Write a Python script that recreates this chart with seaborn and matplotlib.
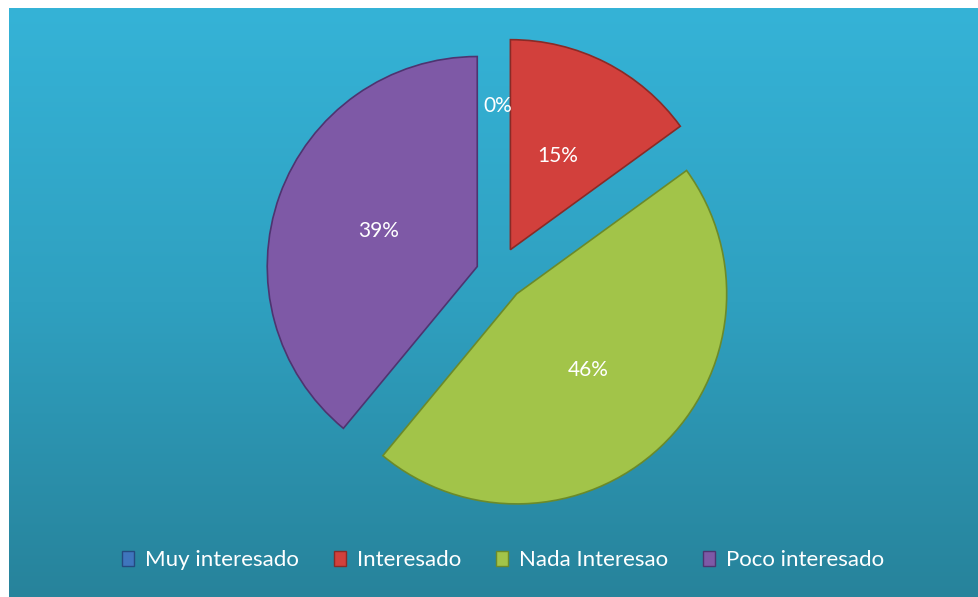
import numpy as np
import matplotlib
matplotlib.use("Agg")
import matplotlib.pyplot as plt
import seaborn as sns

categories = ["Muy interesado", "Interesado", "Nada Interesao", "Poco interesado"]
percentages = [0, 15, 46, 39]
colors = ["#3f75bd", "#d2403c", "#a2c449", "#7e59a6"]
edge_colors = ["#254a80", "#8a2a26", "#6b8a2a", "#4e3470"]
explode = [0.13, 0.13, 0.13, 0.105]

sns.set_theme(style="white")
plt.rcParams["font.family"] = ["Lato", "DejaVu Sans"]

W, H = 979, 597
fig = plt.figure(figsize=(W / 100, H / 100), dpi=100)
fig.patch.set_facecolor("white")

# teal gradient background box
left, top = 9 / W, 8 / H
bg = fig.add_axes([left, 0, 1 - left, 1 - top])
grad = np.linspace(0, 1, 256).reshape(-1, 1)
cmap = matplotlib.colors.LinearSegmentedColormap.from_list("bg", ["#35b3d7", "#2fa0c0", "#27839b"])
bg.imshow(grad, aspect="auto", cmap=cmap, extent=[0, 1, 0, 1], origin="upper")
bg.set_axis_off()

# pie axes: centre at (498, 274) px, radius 210 px
cx, cy, r = 498, 274, 210
ax = fig.add_axes([left, 0, 1 - left, 1 - top])
ax.patch.set_alpha(0)
wedges, texts, autotexts = ax.pie(
    percentages,
    colors=colors,
    startangle=90,
    counterclock=False,
    explode=explode,
    autopct="%1.0f%%",
    pctdistance=0.5,
    textprops=dict(color="white", fontsize=15),
    wedgeprops=dict(linewidth=1.2),
)
for w, ec in zip(wedges, edge_colors):
    w.set_edgecolor(ec)
wedges[0].set_linewidth(0)
autotexts[0].set_position((0, 0.8))

ax.set_xlim((9 - cx) / r, (W - cx) / r)
ax.set_ylim(-(H - cy) / r, (cy - 8) / r)
ax.set_aspect("auto")
ax.set_axis_off()

leg = ax.legend(
    wedges, categories,
    loc="center", bbox_to_anchor=(503 / W, 1 - 560 / H),
    bbox_transform=fig.transFigure,
    ncol=4, frameon=False, fontsize=16,
    handlelength=0.55, handleheight=0.65, handletextpad=0.5,
    columnspacing=1.55,
)
for t in leg.get_texts():
    t.set_color("white")
for h, ec in zip(leg.legend_handles, edge_colors):
    h.set_edgecolor(ec)
    h.set_linewidth(1)

fig.savefig("out.png", dpi=100)
